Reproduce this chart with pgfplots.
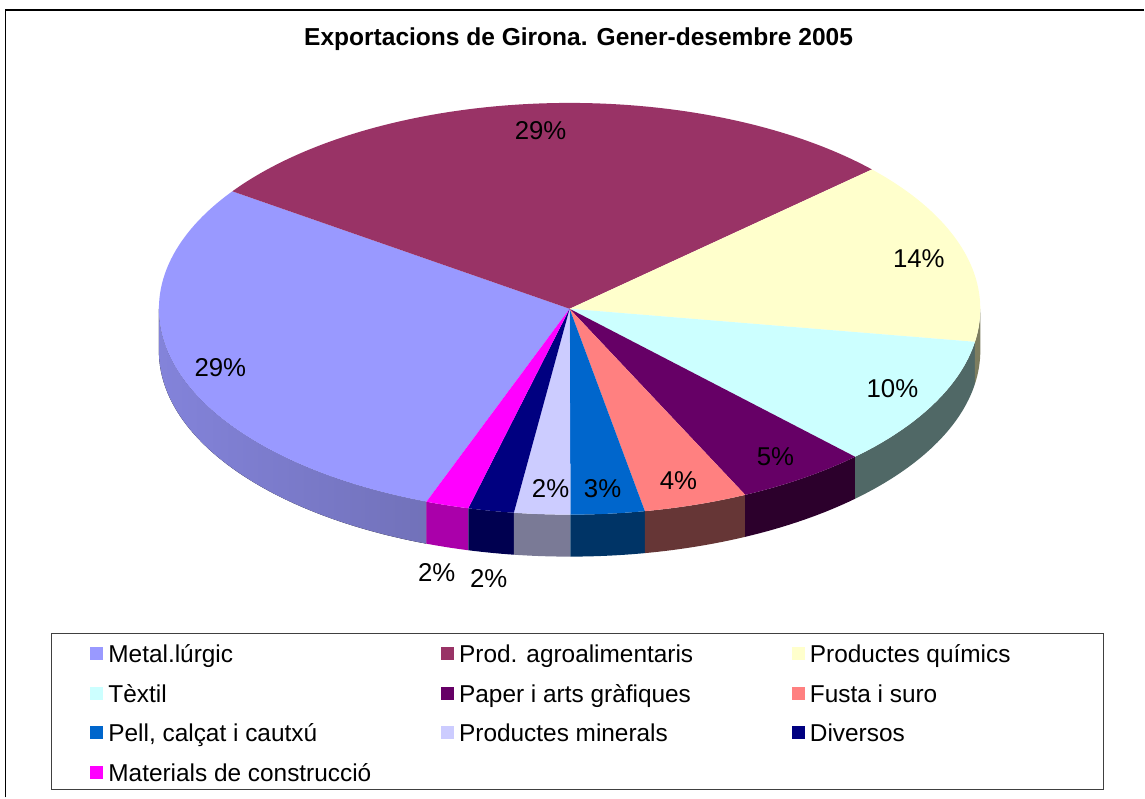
\documentclass[border=0pt]{standalone}
\usepackage{pgfplots}
\pgfplotsset{compat=1.18}
\usepackage{pgfplotstable}
\usepackage{fontspec}
\setmainfont{Liberation Sans}

\definecolor{cMetal}{HTML}{9999FF}
\definecolor{cAgro}{HTML}{993366}
\definecolor{cQuim}{HTML}{FFFFCC}
\definecolor{cText}{HTML}{CCFFFF}
\definecolor{cPaper}{HTML}{660066}
\definecolor{cFusta}{HTML}{FF8080}
\definecolor{cPell}{HTML}{0066CC}
\definecolor{cMin}{HTML}{CCCCFF}
\definecolor{cDiv}{HTML}{000080}
\definecolor{cMat}{HTML}{FF00FF}

\definecolor{sMetalL}{RGB}{131,131,218}
\definecolor{sMetalR}{RGB}{104,104,168}
\definecolor{sQuim}{RGB}{125,125,95}
\definecolor{sText}{RGB}{80,104,102}
\definecolor{sPaper}{RGB}{44,0,44}
\definecolor{sFusta}{RGB}{102,54,54}
\definecolor{sPell}{RGB}{0,52,102}
\definecolor{sMin}{RGB}{122,122,150}
\definecolor{sDiv}{RGB}{0,0,80}
\definecolor{sMat}{RGB}{170,0,170}

% shares (%), in legend order
\pgfplotstableread{
idx val
0 29.0
1 28.5
2 14.4
3 10.2
4 5.2
5 4.1
6 2.9
7 2.2
8 1.8
9 1.7
}\pietable

\newcommand\startangle{249.6}
\newcommand\PS[1]{\csname ps#1\endcsname}
\newcommand\PE[1]{\csname pe#1\endcsname}
% top face of slice #1
\newcommand\topslice[2]{\fill[#2] (axis cs:570,489) -- ++(\PS{#1}:205.5pt and 103pt)
  arc[start angle=\PS{#1}, end angle=\PE{#1}, x radius=205.5pt, y radius=103pt] -- cycle;}
% side wall between angles #1 < #2
\newcommand\wall[3]{\fill[#3] (axis cs:570,489) ++(#1:205.5pt and 103pt)
  arc[start angle=#1, end angle=#2, x radius=205.5pt, y radius=103pt] -- ++(0pt,-21pt)
  arc[start angle=#2, end angle=#1, x radius=205.5pt, y radius=103pt] -- cycle;}

\begin{document}
\begin{tikzpicture}
\gdef\cum{0}
\foreach \i in {0,...,9}{%
  \pgfplotstablegetelem{\i}{val}\of\pietable
  \pgfmathsetmacro{\st}{\startangle-3.6*\cum}%
  \pgfmathsetmacro{\nc}{\cum+\pgfplotsretval}%
  \pgfmathsetmacro{\en}{\startangle-3.6*\nc}%
  \expandafter\xdef\csname ps\i\endcsname{\st}%
  \expandafter\xdef\csname pe\i\endcsname{\en}%
  \xdef\cum{\nc}%
}
\begin{axis}[
  scale only axis, width=572.5pt, height=399pt,
  xmin=0, xmax=1145, ymin=0, ymax=798,
  hide axis, clip=false, enlargelimits=false,
  legend columns=3,
  legend style={at={(0.044541,0.206767)}, anchor=north west, draw=black!75, line width=0.5pt,
    inner xsep=0pt, inner ysep=1.8pt, column sep=0pt, row sep=4.5pt,
    font=\fontsize{12.2}{14}\selectfont,
    nodes={inner sep=0pt, text height=12.85pt, text depth=2.5pt}},
  legend image code/.code={\path (-19.5pt,0pt); \fill[#1] (0pt,-4pt) rectangle (6.5pt,2.5pt);},
]
\path (axis cs:0,0) rectangle (axis cs:1145,798);
% frame
\draw[black, line width=0.8pt] (axis cs:5.5,0) -- (axis cs:5.5,788) -- (axis cs:1145,788);

% side walls
\wall{180}{\PS{0}}{left color=sMetalL, right color=sMetalR}
\wall{\PE{9}}{\PS{9}}{sMat}
\wall{\PE{8}}{\PS{8}}{sDiv}
\wall{\PE{7}}{\PS{7}}{sMin}
\wall{\PE{6}}{\PS{6}}{sPell}
\wall{\PE{5}}{\PS{5}}{sFusta}
\wall{\PE{4}}{\PS{4}}{sPaper}
\wall{\PE{3}}{\PS{3}}{sText}
\wall{\PE{2}}{0}{sQuim}

% top faces
\topslice{0}{cMetal}
\topslice{1}{cAgro}
\topslice{2}{cQuim}
\topslice{3}{cText}
\topslice{4}{cPaper}
\topslice{5}{cFusta}
\topslice{6}{cPell}
\topslice{7}{cMin}
\topslice{8}{cDiv}
\topslice{9}{cMat}

% data labels
\begin{scope}[every node/.style={anchor=base, inner sep=0pt, font=\fontsize{12.9}{15}\selectfont}]
\node at (axis cs:220.5,421) {29\%};
\node at (axis cs:541,658) {29\%};
\node at (axis cs:919.5,530) {14\%};
\node at (axis cs:893,400) {10\%};
\node at (axis cs:776,332) {5\%};
\node at (axis cs:679,308) {4\%};
\node at (axis cs:603,300) {3\%};
\node at (axis cs:551,300) {2\%};
\node at (axis cs:489,210) {2\%};
\node at (axis cs:437,216) {2\%};
\end{scope}

% title
\node[anchor=base, inner sep=0pt, font=\bfseries\fontsize{12.27}{14}\selectfont] at (axis cs:579,752) {Exportacions de Girona. Gener-desembre 2005};

\addlegendimage{fill=cMetal, draw=none}
\addlegendentry{\makebox[149.5pt][l]{\hspace{2.5pt}Metal.lúrgic}}
\addlegendimage{fill=cAgro, draw=none}
\addlegendentry{\makebox[149.5pt][l]{\hspace{2.5pt}Prod. agroalimentaris}}
\addlegendimage{fill=cQuim, draw=none}
\addlegendentry{\makebox[149.5pt][l]{\hspace{2.5pt}Productes químics}}
\addlegendimage{fill=cText, draw=none}
\addlegendentry{\makebox[149.5pt][l]{\hspace{2.5pt}Tèxtil}}
\addlegendimage{fill=cPaper, draw=none}
\addlegendentry{\makebox[149.5pt][l]{\hspace{2.5pt}Paper i arts gràfiques}}
\addlegendimage{fill=cFusta, draw=none}
\addlegendentry{\makebox[149.5pt][l]{\hspace{2.5pt}Fusta i suro}}
\addlegendimage{fill=cPell, draw=none}
\addlegendentry{\makebox[149.5pt][l]{\hspace{2.5pt}Pell, calçat i cautxú}}
\addlegendimage{fill=cMin, draw=none}
\addlegendentry{\makebox[149.5pt][l]{\hspace{2.5pt}Productes minerals}}
\addlegendimage{fill=cDiv, draw=none}
\addlegendentry{\makebox[149.5pt][l]{\hspace{2.5pt}Diversos}}
\addlegendimage{fill=cMat, draw=none}
\addlegendentry{\makebox[149.5pt][l]{\hspace{2.5pt}Materials de construcció}}
\end{axis}
\end{tikzpicture}
\end{document}
